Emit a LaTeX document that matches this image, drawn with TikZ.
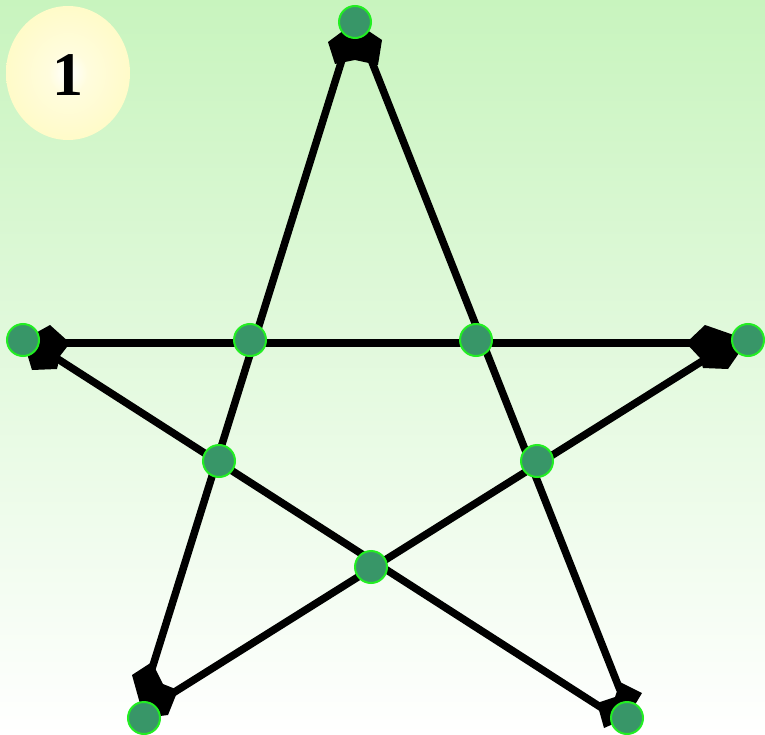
\documentclass[tikz,border=0pt]{standalone}
\usepackage{fontspec}
\setmainfont{Liberation Serif}
\usetikzlibrary{shadings}
\definecolor{bgtop}{RGB}{200,244,190}
\definecolor{dotfill}{RGB}{56,150,104}
\definecolor{dotrim}{RGB}{34,238,34}
\definecolor{badgeout}{RGB}{255,248,170}
\pgfdeclareradialshading{badgeshade}{\pgfpoint{0bp}{0bp}}{color(0bp)=(white); color(8bp)=(white!60!badgeout); color(40bp)=(badgeout!85!white); color(50bp)=(badgeout)}
\tikzset{
  dot/.style={circle, draw=dotrim, line width=2pt, fill=dotfill, minimum size=32pt, inner sep=0pt},
  starline/.style={line width=7.5pt, black},
  tipshape/.style={fill=black, draw=none}
}
\begin{document}
\begin{tikzpicture}[x=1pt,y=-1pt]
\useasboundingbox (0,0) rectangle (765,735);
\shade[top color=bgtop, bottom color=white] (0,0) rectangle (765,735);
% line end coordinates
\coordinate (a1) at (345,50);  \coordinate (b1) at (150,675);
\coordinate (a2) at (368,52);  \coordinate (b2) at (620,690);
\coordinate (a3) at (60,343);  \coordinate (b3) at (695,343);
\coordinate (a4) at (50,354);  \coordinate (b4) at (605,710);
\coordinate (a5) at (712,355); \coordinate (b5) at (165,698);
\draw[starline] (a1) -- (b1);
\draw[starline] (a2) -- (b2);
\draw[starline] (a3) -- (b3);
\draw[starline] (a4) -- (b4);
\draw[starline] (a5) -- (b5);
% tips
\fill[tipshape] (355,22) -- (328,42) -- (335,64) -- (355,60) -- (378,65) -- (382,40) -- cycle;
\fill[tipshape] (23,340) -- (50,325) -- (70,343) -- (60,356) -- (57,369) -- (32,370) -- cycle;
\fill[tipshape] (748,340) -- (705,325) -- (686,343) -- (700,358) -- (703,368) -- (728,369) -- cycle;
\fill[tipshape] (144,718) -- (132,675) -- (152,662) -- (163,684) -- (178,690) -- (168,715) -- cycle;
\fill[tipshape] (627,718) -- (604,728) -- (597,703) -- (615,697) -- (620,682) -- (642,693) -- cycle;
% dots
\node[dot] (pT) at (355,22) {};
\node[dot] (pL) at (23,340) {};
\node[dot] (pR) at (748,340) {};
\node[dot] (pBL) at (144,718) {};
\node[dot] (pBR) at (627,718) {};
\node[dot] (q1) at (250,340) {};
\node[dot] (q2) at (476,340) {};
\node[dot] (q3) at (219,461) {};
\node[dot] (q4) at (537,461) {};
\node[dot] (q5) at (371,567) {};
% badge
\shade[shading=badgeshade] (68,73) ellipse [x radius=62, y radius=67];
\node[font=\fontsize{62}{62}\selectfont\bfseries] (num) at (68,75) {1};
\end{tikzpicture}
\end{document}
